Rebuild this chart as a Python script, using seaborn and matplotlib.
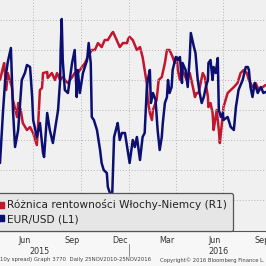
import pandas as pd
import matplotlib
matplotlib.use("Agg")
import matplotlib.pyplot as plt
import matplotlib.dates as mdates
from matplotlib.lines import Line2D
import seaborn as sns

# EUR/USD (L1)
eur_dates = [
    "2015-04-28", "2015-05-04", "2015-05-08", "2015-05-13", "2015-05-19", "2015-05-23",
    "2015-05-27", "2015-06-02", "2015-06-09", "2015-06-15", "2015-06-19", "2015-06-25",
    "2015-06-29", "2015-07-01", "2015-07-08", "2015-07-14", "2015-07-20", "2015-07-22",
    "2015-07-28", "2015-08-02", "2015-08-08", "2015-08-18", "2015-08-22", "2015-08-23",
    "2015-08-25", "2015-08-27", "2015-08-31", "2015-09-06", "2015-09-14", "2015-09-19",
    "2015-09-23", "2015-09-25", "2015-09-29", "2015-10-05", "2015-10-13", "2015-10-16",
    "2015-10-20", "2015-10-22", "2015-10-26", "2015-11-01", "2015-11-07", "2015-11-10",
    "2015-11-14", "2015-11-20", "2015-11-22", "2015-11-26", "2015-11-30", "2015-12-04",
    "2015-12-09", "2015-12-11", "2015-12-15", "2015-12-19", "2015-12-25", "2015-12-31",
    "2016-01-03", "2016-01-09", "2016-01-13", "2016-01-17", "2016-01-23", "2016-01-28",
    "2016-02-01", "2016-02-05", "2016-02-07", "2016-02-11", "2016-02-13", "2016-02-17",
    "2016-02-22", "2016-02-26", "2016-03-01", "2016-03-05", "2016-03-07", "2016-03-11",
    "2016-03-15", "2016-03-17", "2016-03-20", "2016-03-24", "2016-03-26", "2016-04-01",
    "2016-04-05", "2016-04-09", "2016-04-13", "2016-04-14", "2016-04-20", "2016-04-24",
    "2016-04-28", "2016-04-30", "2016-05-06", "2016-05-09", "2016-05-13", "2016-05-17",
    "2016-05-21", "2016-05-25", "2016-05-29", "2016-06-02", "2016-06-03", "2016-06-07",
    "2016-06-11", "2016-06-13", "2016-06-17", "2016-06-21", "2016-06-23", "2016-06-27",
    "2016-07-01", "2016-07-02", "2016-07-10", "2016-07-16", "2016-07-22", "2016-07-26",
    "2016-07-29", "2016-07-31", "2016-08-08", "2016-08-14", "2016-08-18", "2016-08-20",
    "2016-08-23", "2016-08-27", "2016-08-31", "2016-09-06", "2016-09-12", "2016-09-17",
    "2016-09-21",
]
eur_values = [
    1.0756, 1.1074, 1.1254, 1.1362, 1.1446, 1.1074, 1.0852, 1.0954, 1.1254, 1.1296,
    1.1344, 1.1332, 1.1152, 1.1014, 1.0912, 1.0996, 1.0816, 1.0792, 1.1056, 1.0954,
    1.0876, 1.1074, 1.1254, 1.1434, 1.1620, 1.1374, 1.1194, 1.1176, 1.1356, 1.1434,
    1.1152, 1.1314, 1.1176, 1.1296, 1.1374, 1.1476, 1.1356, 1.1032, 1.1014, 1.0954,
    1.0834, 1.0756, 1.0714, 1.0696, 1.0612, 1.0576, 1.0528, 1.0912, 1.0972, 1.0996,
    1.0894, 1.0936, 1.0936, 1.0816, 1.0756, 1.0894, 1.0852, 1.0912, 1.0774, 1.0912,
    1.0936, 1.1194, 1.1254, 1.1314, 1.1116, 1.1176, 1.1134, 1.0954, 1.0834, 1.0912,
    1.0996, 1.1116, 1.1152, 1.1254, 1.1176, 1.1212, 1.1314, 1.1392, 1.1374, 1.1392,
    1.1236, 1.1356, 1.1314, 1.1212, 1.1392, 1.1536, 1.1452, 1.1416, 1.1266, 1.1176,
    1.1116, 1.1152, 1.1212, 1.1254, 1.1356, 1.1374, 1.1254, 1.1332, 1.1296, 1.1386,
    1.1074, 1.1032, 1.1056, 1.1014, 1.1032, 1.0972, 1.0954, 1.1092, 1.1152, 1.1194,
    1.1254, 1.1332, 1.1332, 1.1314, 1.1212, 1.1152, 1.1236, 1.1176, 1.1212, 1.1176,
    1.1182,
]

# Italy-Germany 10y spread, bp (R1, inverted)
spread_dates = [
    "2015-04-28", "2015-05-04", "2015-05-06", "2015-05-10", "2015-05-13", "2015-05-21",
    "2015-05-23", "2015-05-31", "2015-06-02", "2015-06-07", "2015-06-11", "2015-06-19",
    "2015-06-25", "2015-07-01", "2015-07-08", "2015-07-10", "2015-07-14", "2015-07-18",
    "2015-07-20", "2015-07-28", "2015-07-29", "2015-08-06", "2015-08-12", "2015-08-16",
    "2015-08-22", "2015-08-27", "2015-08-31", "2015-09-06", "2015-09-14", "2015-09-19",
    "2015-09-25", "2015-10-03", "2015-10-09", "2015-10-14", "2015-10-22", "2015-10-28",
    "2015-11-03", "2015-11-10", "2015-11-16", "2015-11-22", "2015-11-30", "2015-12-02",
    "2015-12-09", "2015-12-15", "2015-12-21", "2015-12-29", "2015-12-31", "2016-01-03",
    "2016-01-09", "2016-01-17", "2016-01-23", "2016-01-28", "2016-02-01", "2016-02-05",
    "2016-02-07", "2016-02-11", "2016-02-15", "2016-02-17", "2016-02-24", "2016-02-28",
    "2016-03-05", "2016-03-11", "2016-03-15", "2016-03-20", "2016-03-26", "2016-03-30",
    "2016-04-03", "2016-04-05", "2016-04-09", "2016-04-13", "2016-04-14", "2016-04-22",
    "2016-04-28", "2016-05-04", "2016-05-08", "2016-05-11", "2016-05-15", "2016-05-23",
    "2016-05-27", "2016-06-02", "2016-06-03", "2016-06-07", "2016-06-11", "2016-06-13",
    "2016-06-15", "2016-06-19", "2016-06-23", "2016-06-25", "2016-06-29", "2016-07-02",
    "2016-07-10", "2016-07-16", "2016-07-22", "2016-07-29", "2016-08-04", "2016-08-10",
    "2016-08-16", "2016-08-20", "2016-08-27", "2016-09-02", "2016-09-08", "2016-09-16",
    "2016-09-21",
]
spread_values = [
    122.0, 113.6, 111.0, 128.5, 117.5, 126.6, 135.0, 146.1, 137.0, 141.5,
    150.0, 154.5, 152.6, 156.5, 164.3, 154.5, 128.5, 127.2, 117.5, 116.8,
    120.7, 117.5, 122.0, 117.5, 122.0, 120.1, 122.0, 124.0, 120.1, 117.5,
    117.5, 113.6, 111.0, 107.1, 102.5, 102.5, 98.0, 100.6, 96.0, 96.0,
    91.5, 90.8, 96.0, 100.6, 98.0, 98.0, 95.4, 94.0, 96.0, 102.5,
    100.6, 107.1, 115.5, 124.0, 135.0, 143.5, 148.0, 141.5, 135.0, 122.0,
    120.1, 111.0, 102.5, 102.5, 107.1, 111.0, 107.1, 115.5, 122.0, 113.6,
    115.5, 122.0, 117.5, 126.6, 133.1, 130.5, 130.5, 117.5, 120.1, 133.1,
    139.6, 137.0, 143.5, 154.5, 150.0, 141.5, 154.5, 163.0, 150.0, 139.6,
    130.5, 128.5, 126.6, 124.0, 117.5, 115.5, 117.5, 122.0, 126.6, 124.0,
    128.5, 126.6, 125.3,
]

legend_labels = ["Różnica rentowności Włochy-Niemcy (R1)", "EUR/USD (L1)"]
year_labels = ["2015", "2016"]
year_label_dates = ["2015-07-14", "2016-06-23"]
year_break = "2016-01-01"
grid_dates = ["2015-07-01", "2015-10-01", "2016-01-01", "2016-04-01", "2016-07-01"]
footer_left = "10y spread) Graph 3770  Daily 25NOV2010-25NOV2016"
footer_right = "Copyright© 2016 Bloomberg Finance L."

RED = "#c2162f"
NAVY = "#0c0f72"

eur = pd.DataFrame({"date": pd.to_datetime(eur_dates), "value": eur_values})
spread = pd.DataFrame({"date": pd.to_datetime(spread_dates), "value": spread_values})

sns.set_style("white")
plt.rcParams["font.family"] = ["DejaVu Sans"]

fig = plt.figure(figsize=(2.66, 2.66), dpi=100)
fig.patch.set_facecolor("#f7f7f7")

ax = fig.add_axes([0, 35 / 266, 1, 231 / 266])
ax2 = ax.twinx()

ax.set_zorder(ax2.get_zorder() + 1)
ax.patch.set_visible(False)
ax2.patch.set_visible(True)
ax2.set_facecolor("#f0f0f0")

sns.lineplot(data=spread, x="date", y="value", ax=ax2, color=RED, linewidth=1.8)
sns.lineplot(data=eur, x="date", y="value", ax=ax, color=NAVY, linewidth=1.8)

ax.set_xlim(pd.Timestamp("2015-04-28"), pd.Timestamp("2016-09-22"))
ax.set_ylim(1.0348, 1.1734)
ax2.set_ylim(220.15, 70)

ax.set_yticks([1.0534, 1.0714, 1.0894, 1.1074, 1.1254, 1.1434, 1.1614])
ax.grid(axis="y", color="#b4b4b4", linestyle=(0, (1, 2)), linewidth=0.7)
for d in grid_dates:
    ax.axvline(pd.Timestamp(d), color="#b4b4b4", linestyle=(0, (1, 2)), linewidth=0.7, zorder=0)

ax.set_xlabel("")
ax.set_ylabel("")
ax2.set_ylabel("")
ax.tick_params(axis="y", left=False, labelleft=False)
ax2.tick_params(axis="y", right=False, labelright=False)

ax.xaxis.set_major_locator(mdates.MonthLocator())
ax.xaxis.set_major_formatter(plt.NullFormatter())
ax.xaxis.set_minor_locator(mdates.MonthLocator(bymonth=(3, 6, 9, 12), bymonthday=15))
ax.xaxis.set_minor_formatter(mdates.DateFormatter("%b"))
ax.tick_params(axis="x", which="major", length=3, width=0.7, color="#555555", direction="out")
ax.tick_params(axis="x", which="minor", length=0, pad=3.5, labelsize=5.8, labelcolor="#333333")

for a in (ax, ax2):
    for side in ("top", "left", "right", "bottom"):
        a.spines[side].set_visible(False)
ax.spines["bottom"].set_visible(True)
ax.spines["bottom"].set_color("#555555")
ax.spines["bottom"].set_linewidth(0.8)

for label, d in zip(year_labels, year_label_dates):
    ax.text(pd.Timestamp(d), -0.087, label, transform=ax.get_xaxis_transform(),
            ha="center", va="center", fontsize=5.8, color="#333333")

ax.plot([pd.Timestamp(year_break)] * 2, [-0.056, -0.108], transform=ax.get_xaxis_transform(),
        color="#888888", linewidth=0.7, clip_on=False)

handles = [
    Line2D([], [], marker="s", linestyle="none", color=RED, markersize=4.8),
    Line2D([], [], marker="s", linestyle="none", color=NAVY, markersize=4.8),
]
legend = ax.legend(
    handles, legend_labels,
    loc="lower left",
    bbox_to_anchor=(-0.035, 0.0),
    borderaxespad=0,
    fontsize=7.6,
    handlelength=0.6,
    handletextpad=0.25,
    borderpad=0.65,
    labelspacing=0.35,
    fancybox=True,
    frameon=True,
)
for text in legend.get_texts():
    text.set_color("#222222")
frame = legend.get_frame()
frame.set_facecolor("#e6e6e6")
frame.set_edgecolor("#555555")
frame.set_linewidth(0.9)
frame.set_alpha(1)

fig.text(0.0, 6 / 266, footer_left, ha="left", va="center", fontsize=3.9, color="#444444")
fig.text(160 / 266, 6 / 266, footer_right, ha="left", va="center", fontsize=3.8, color="#444444")

plt.savefig("out.png", dpi=100, facecolor=fig.get_facecolor())
